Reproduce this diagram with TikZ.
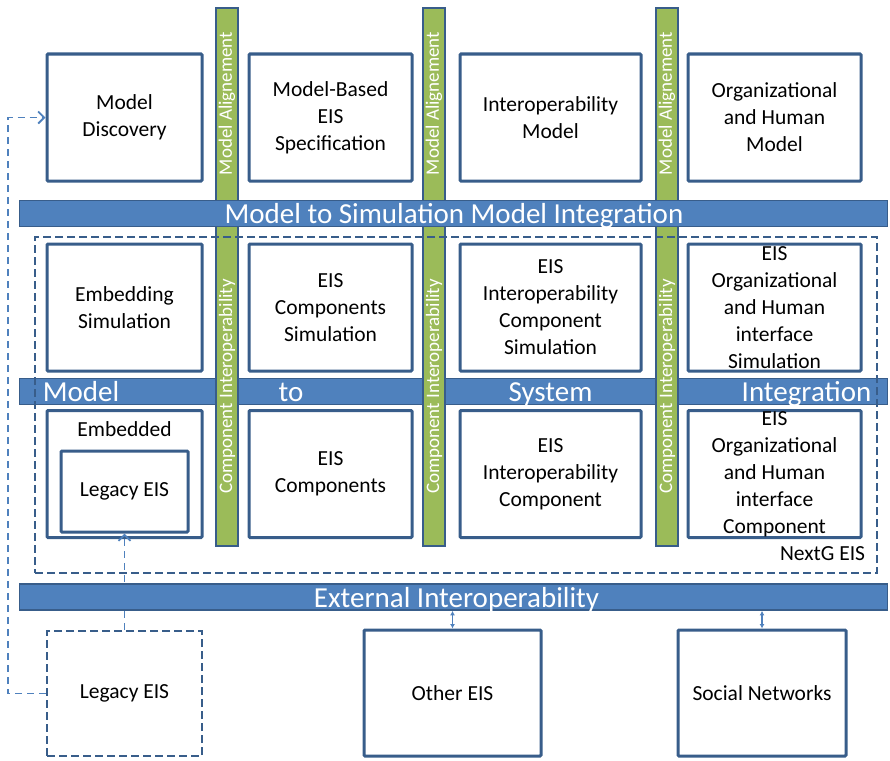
\documentclass[tikz,border=0pt]{standalone}
\usepackage{fontspec}
\setmainfont{Carlito}
\usetikzlibrary{arrows.meta}
\usetikzlibrary{positioning}
\definecolor{boxblue}{HTML}{385D8A}
\definecolor{barblue}{HTML}{4F81BD}
\definecolor{bargreen}{HTML}{9BBB59}
\tikzset{
    block/.style={draw=boxblue, line width=3pt, fill=white, align=center, inner sep=0pt,
        minimum height=127pt, font=\fontsize{21.5}{27}\selectfont, rounded corners=1pt},
    hbar/.style={draw=boxblue, line width=1.8pt, fill=barblue, minimum width=868pt,
        minimum height=26pt, inner sep=0pt},
    vbar/.style={draw=boxblue, line width=2.2pt, fill=bargreen, minimum width=22pt,
        minimum height=538pt, inner sep=0pt},
    bartext/.style={text=white, font=\fontsize{29}{34}\selectfont, inner sep=0pt, anchor=base},
    vbartext/.style={text=white, font=\fontsize{19}{22}\selectfont, inner sep=0pt, rotate=90},
    dashbox/.style={draw=boxblue, line width=2.6pt, dash pattern=on 8pt off 4pt},
    dasharrow/.style={draw=barblue, line width=1.8pt, dash pattern=on 7pt off 5pt,
        -{Straight Barb[length=6pt,width=12pt]}},
    linkarrow/.style={draw=barblue, line width=1.5pt,
        {Latex[length=4.5pt,width=5pt]}-{Latex[length=4.5pt,width=5pt]}}
}
\begin{document}
\begin{tikzpicture}[x=1pt,y=-1pt]
    \useasboundingbox (0,0) rectangle (890,760);

    % model row
    \node[block, minimum width=155pt] (discovery) at (124.5,117.5) {Model\\Discovery};
    \node[block, minimum width=163pt] (spec) at (330.5,117.5) {Model-Based\\EIS\\Specification};
    \node[block, minimum width=181pt] (intermodel) at (550.5,117.5) {Interoperability\\Model};
    \node[block, minimum width=173pt] (orgmodel) at (774.5,117.5) {Organizational\\and Human\\Model};

    % simulation row
    \node[block, minimum width=155pt] (embsim) at (124.5,307.5) {Embedding\\Simulation};
    \node[block, minimum width=163pt] (compsim) at (330.5,307.5) {EIS\\Components\\Simulation};
    \node[block, minimum width=181pt] (intersim) at (550.5,307.5) {EIS\\Interoperability\\Component\\Simulation};
    \node[block, minimum width=173pt] (orgsim) at (774.5,307.5) {EIS\\Organizational\\and Human\\interface\\Simulation};

    % system row
    \node[block, minimum width=155pt] (embedded) at (124.5,474) {};
    \node[anchor=base, font=\fontsize{21.5}{27}\selectfont, inner sep=0pt] (embedlbl) at (124.5,436) {Embedded};
    \node[block, minimum width=127pt, minimum height=81pt] (legacyin) at (124.5,491.5) {Legacy EIS};
    \node[block, minimum width=163pt] (comp) at (330.5,474) {EIS\\Components};
    \node[block, minimum width=181pt] (intercomp) at (550.5,474) {EIS\\Interoperability\\Component};
    \node[block, minimum width=173pt] (orgcomp) at (774.5,474) {EIS\\Organizational\\and Human\\interface\\Component};

    % outside systems
    \node[block, dashbox, rounded corners=0pt, minimum width=155pt, minimum height=125pt] (legacyout) at (124.5,693.5) {Legacy EIS};
    \node[block, minimum width=177pt, minimum height=126pt] (other) at (452.5,693) {Other EIS};
    \node[block, minimum width=168pt, minimum height=126pt] (social) at (762,693) {Social Networks};

    % bars
    \node[hbar] (sysbar) at (453.5,391.5) {};
    \node[bartext] at (81,401) {Model};
    \node[bartext] at (291,401) {to};
    \node[bartext] at (550.5,401) {System};
    \node[bartext] at (806.5,401) {Integration};

    \foreach \name/\x in {alignA/227, alignB/434, alignC/667} {
        \node[vbar] (\name) at (\x,277) {};
        \node[vbartext] at (\x,103.5) {Model Alignement};
        \node[vbartext] at (\x,386.5) {Component Interoperability};
    }

    \node[hbar] (simbar) at (453.5,213.5) {};
    \node[bartext] at (454,223) {Model to Simulation Model Integration};
    \node[hbar] (ext) at (453.5,597) {};
    \node[bartext] at (456.5,607) {External Interoperability};

    % NextG EIS frame
    \node[dashbox, minimum width=842pt, minimum height=336pt, inner sep=0pt] (nextg) at (456,405) {};
    \node[anchor=base east, font=\fontsize{21.5}{27}\selectfont, inner sep=0pt] (nextglbl)
        at ([xshift=-13pt,yshift=14pt]nextg.south east) {NextG EIS};

    % links
    \draw[dasharrow] (legacyout.west) -- ++(-38,0) |- (discovery.west);
    \draw[dasharrow] (legacyout.north) -- (legacyin.south);
    \draw[linkarrow] (other.north) -- (other.north |- ext.south);
    \draw[linkarrow] (social.north) -- (social.north |- ext.south);
\end{tikzpicture}
\end{document}
